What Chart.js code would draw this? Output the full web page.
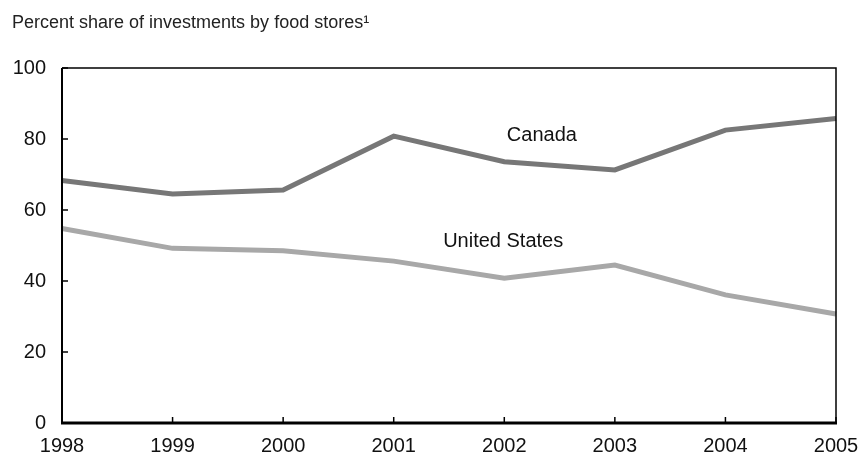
<!DOCTYPE html>
<html>
<head>
<meta charset="utf-8">
<script src="https://cdn.jsdelivr.net/npm/chart.js@4.4.1/dist/chart.umd.min.js"></script>
<style>
  html, body { margin: 0; padding: 0; background: #fff; }
  #wrap { width: 863px; height: 465px; }
</style>
</head>
<body>
<div id="wrap"><canvas id="chart" width="863" height="465"></canvas></div>
<script>
// ===== Data =====
const years = ['1998', '1999', '2000', '2001', '2002', '2003', '2004', '2005'];
const canada = [68.3, 64.5, 65.6, 80.8, 73.6, 71.3, 82.5, 85.8];
const unitedStates = [54.8, 49.2, 48.5, 45.6, 40.8, 44.5, 36.1, 30.7];
const yTicks = [0, 20, 40, 60, 80, 100];

const FONT = '"Liberation Sans", Arial, sans-serif';

// ===== Frame, inside ticks, title, series labels =====
const framePlugin = {
  id: 'frame',
  afterDraw(chart) {
    const { ctx, chartArea: a, scales: { x, y } } = chart;
    ctx.save();
    ctx.strokeStyle = '#000';

    // top + right border
    ctx.lineWidth = 1.5;
    ctx.beginPath();
    ctx.moveTo(a.left, a.top);
    ctx.lineTo(a.right, a.top);
    ctx.lineTo(a.right, a.bottom);
    ctx.stroke();

    // left axis
    ctx.lineWidth = 2;
    ctx.beginPath();
    ctx.moveTo(a.left, a.top);
    ctx.lineTo(a.left, a.bottom);
    ctx.stroke();

    // y ticks (inside)
    ctx.lineWidth = 1.5;
    yTicks.forEach(v => {
      const py = y.getPixelForValue(v);
      ctx.beginPath();
      ctx.moveTo(a.left, py);
      ctx.lineTo(a.left + 6, py);
      ctx.stroke();
    });

    // x ticks (inside)
    years.forEach((yr, i) => {
      const px = x.getPixelForValue(i);
      ctx.beginPath();
      ctx.moveTo(px, a.bottom);
      ctx.lineTo(px, a.bottom - 6);
      ctx.stroke();
    });

    // bottom axis
    ctx.lineWidth = 3;
    ctx.beginPath();
    ctx.moveTo(a.left - 1, a.bottom);
    ctx.lineTo(a.right + 1, a.bottom);
    ctx.stroke();

    // title
    ctx.fillStyle = '#222';
    ctx.font = '18px ' + FONT;
    ctx.textAlign = 'left';
    ctx.textBaseline = 'alphabetic';
    ctx.fillText('Percent share of investments by food stores\u00B9', 12, 28);

    // series labels
    ctx.font = '20px ' + FONT;
    ctx.fillStyle = '#111';
    ctx.textAlign = 'center';
    ctx.textBaseline = 'middle';
    ctx.fillText('Canada', x.getPixelForValue(4.34), y.getPixelForValue(81.1));
    ctx.fillText('United States', x.getPixelForValue(3.99), y.getPixelForValue(51.0));
    ctx.restore();
  }
};

new Chart(document.getElementById('chart'), {
  type: 'line',
  data: {
    labels: years,
    datasets: [
      { label: 'Canada', data: canada, borderColor: '#777777', borderWidth: 5, pointRadius: 0, tension: 0, fill: false },
      { label: 'United States', data: unitedStates, borderColor: '#a8a8a8', borderWidth: 5, pointRadius: 0, tension: 0, fill: false }
    ]
  },
  options: {
    responsive: false,
    animation: false,
    layout: { padding: { top: 68, right: 27, bottom: 0, left: 0 } },
    plugins: { legend: { display: false }, tooltip: { enabled: false } },
    scales: {
      x: {
        offset: false,
        grid: { display: false },
        border: { display: false },
        afterFit(scale) { scale.height = 42; },
        ticks: { color: '#111', font: { family: FONT, size: 20 }, padding: 3, maxRotation: 0, autoSkip: false }
      },
      y: {
        min: 0,
        max: 100,
        afterBuildTicks(scale) { scale.ticks = yTicks.map(v => ({ value: v })); },
        afterFit(scale) { scale.width = 62; },
        grid: { display: false },
        border: { display: false },
        ticks: { color: '#111', font: { family: FONT, size: 20 }, padding: 8 }
      }
    }
  },
  plugins: [framePlugin]
});
</script>
</body>
</html>
